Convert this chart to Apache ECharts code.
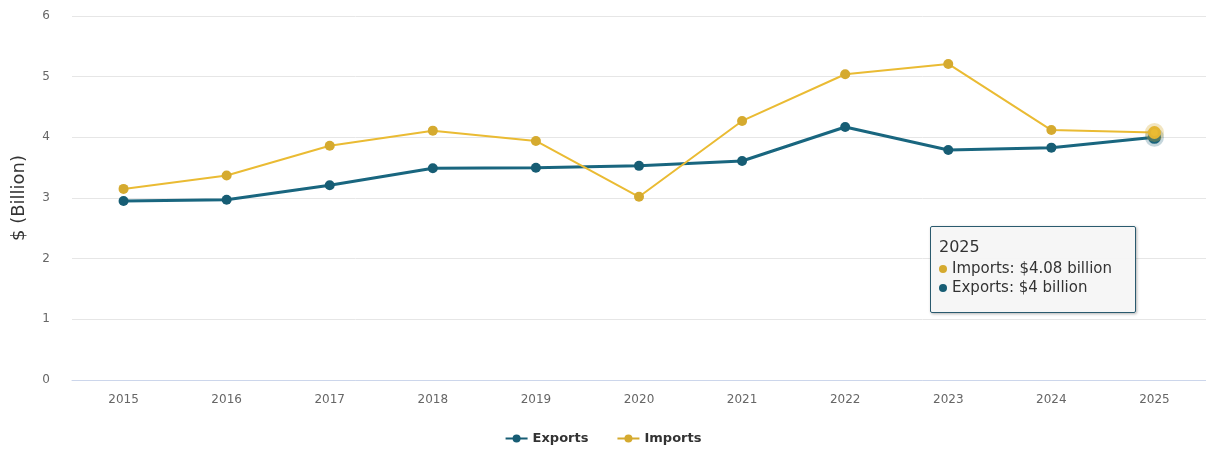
<!DOCTYPE html>
<html>
<head>
<meta charset="utf-8">
<script src="https://cdn.jsdelivr.net/npm/echarts@6/dist/echarts.min.js"></script>
<style>
html,body{margin:0;padding:0;background:#fff;}
#chart{width:1206px;height:452px;}
</style>
</head>
<body>
<div id="chart"></div>
<script>
const years = ['2015','2016','2017','2018','2019','2020','2021','2022','2023','2024','2025'];
const exportsData = [2.95, 2.97, 3.21, 3.49, 3.50, 3.53, 3.61, 4.17, 3.79, 3.83, 4.00];
const importsData = [3.15, 3.37, 3.86, 4.11, 3.94, 3.02, 4.27, 5.04, 5.21, 4.12, 4.08];
const yTicks = [0, 1, 2, 3, 4, 5, 6];

const EXP = '#175d74';
const IMP = '#d5aa2f';
const FONT = '"DejaVu Sans", Verdana, sans-serif';

const chart = echarts.init(document.getElementById('chart'));
chart.setOption({
  animation: false,
  textStyle: { fontFamily: FONT },
  grid: { left: 72, right: 0, top: 16, bottom: 72 },
  legend: {
    bottom: 2,
    left: 'center',
    itemGap: 28,
    itemWidth: 22,
    itemHeight: 10,
    textStyle: { fontSize: 13, color: '#333', fontWeight: 'bold', fontFamily: FONT },
    data: ['Exports', 'Imports']
  },
  tooltip: {
    trigger: 'axis',
    triggerOn: 'none',
    alwaysShowContent: true,
    transitionDuration: 0,
    axisPointer: { type: 'none' },
    position: [930, 226],
    backgroundColor: 'rgba(246,246,246,0.95)',
    borderColor: '#2a5a6e',
    borderWidth: 1.5,
    borderRadius: 2,
    padding: [7, 8, 15, 8],
    extraCssText: 'box-shadow:1px 1px 3px rgba(0,0,0,0.3);width:188px;',
    textStyle: { fontFamily: FONT, fontSize: 15, color: '#333' },
    formatter: function (params) {
      const idx = params[0].dataIndex;
      const dot = c => '<span style="display:inline-block;width:8px;height:8px;border-radius:4px;background:' + c + ';margin-right:5px;vertical-align:middle;"></span>';
      return '<div style="font-size:16px;line-height:25px;color:#333;">' + years[idx] + '</div>' +
        '<div style="line-height:19px;white-space:nowrap;">' + dot(IMP) + 'Imports: $' + importsData[idx] + ' billion</div>' +
        '<div style="line-height:19px;white-space:nowrap;">' + dot(EXP) + 'Exports: $' + exportsData[idx] + ' billion</div>';
    }
  },
  xAxis: {
    type: 'category',
    data: years,
    boundaryGap: true,
    axisLine: { show: true, lineStyle: { color: '#ccd6eb', width: 1 } },
    axisTick: { show: false },
    axisLabel: { color: '#666', fontSize: 12, margin: 14, fontFamily: FONT }
  },
  yAxis: {
    type: 'value',
    min: yTicks[0],
    max: yTicks[yTicks.length - 1],
    interval: 1,
    name: '$ (Billion)',
    nameLocation: 'middle',
    nameGap: 44,
    nameTextStyle: { fontSize: 18, color: '#333', fontFamily: FONT },
    axisLine: { show: false },
    axisTick: { show: false },
    axisLabel: { color: '#666', fontSize: 12, margin: 22, fontFamily: FONT },
    splitLine: { lineStyle: { color: '#e6e6e6', width: 1 } }
  },
  series: [
    {
      name: 'Exports',
      type: 'line',
      data: exportsData,
      z: 3,
      symbol: 'circle',
      symbolSize: 10,
      lineStyle: { color: EXP, width: 3 },
      itemStyle: { color: EXP },
      emphasis: { scale: 1.3, itemStyle: { borderWidth: 6, borderColor: 'rgba(23,93,116,0.25)' } }
    },
    {
      name: 'Imports',
      type: 'line',
      data: importsData,
      z: 4,
      symbol: 'circle',
      symbolSize: 10,
      lineStyle: { color: IMP, width: 2 },
      itemStyle: { color: IMP },
      emphasis: { scale: 1.3, itemStyle: { borderWidth: 6, borderColor: 'rgba(213,170,47,0.3)' } }
    }
  ]
});
chart.dispatchAction({ type: 'highlight', seriesIndex: [0, 1], dataIndex: 10 });
chart.dispatchAction({ type: 'showTip', seriesIndex: 1, dataIndex: 10 });
</script>
</body>
</html>
